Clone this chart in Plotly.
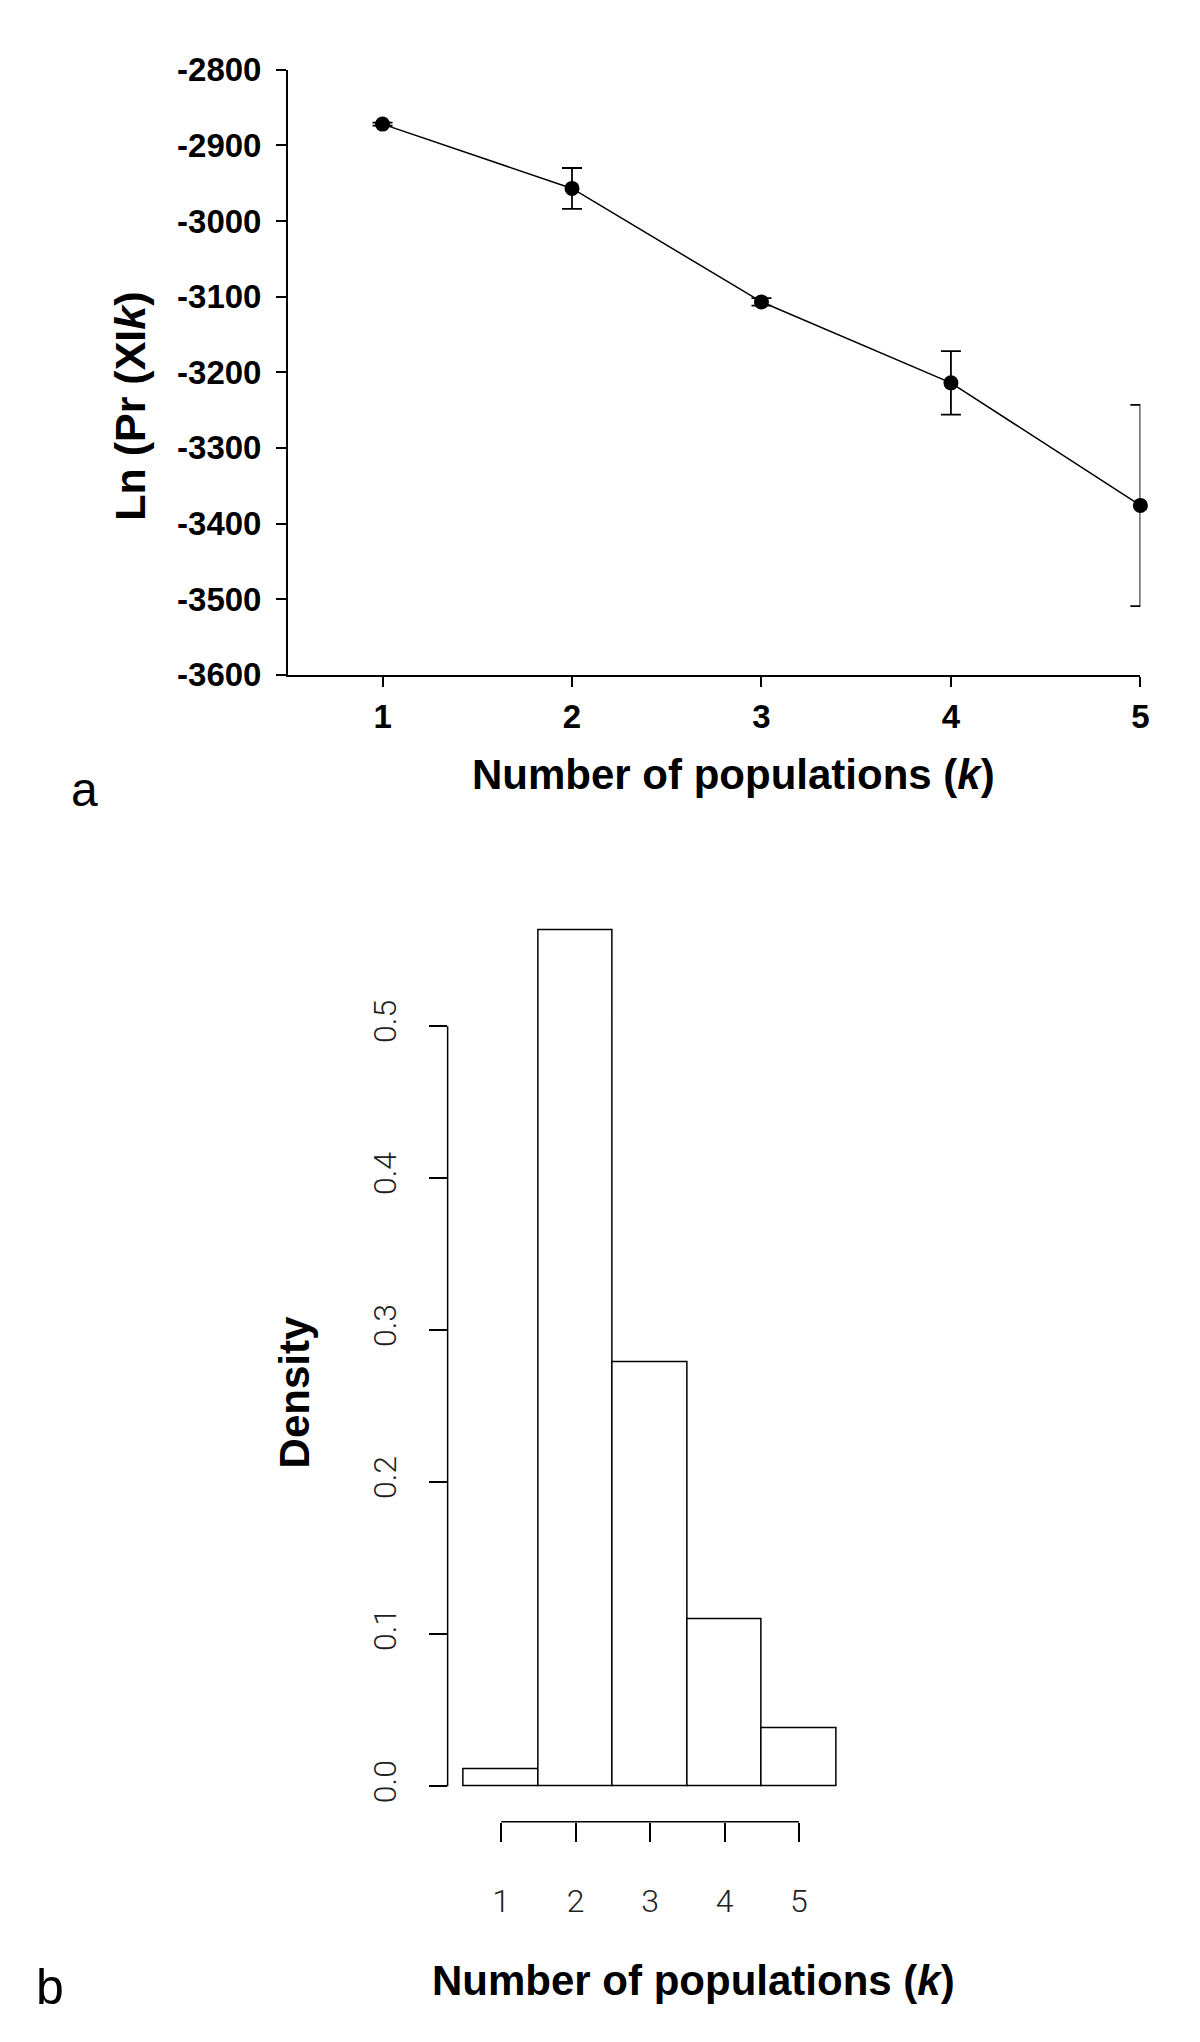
import plotly.graph_objects as go

# ---------------- data ----------------
k_values = [1, 2, 3, 4, 5]
ln_pr = [-2872, -2957, -3107, -3214, -3376]
ln_pr_err = [2, 27, 5, 42, 133]
top_y_ticks = [-3600, -3500, -3400, -3300, -3200, -3100, -3000, -2900, -2800]
top_y_ticktext = ["-3600", "-3500", "-3400", "-3300", "-3200", "-3100", "-3000", "-2900", "-2800"]

density = [0.0115, 0.563, 0.279, 0.110, 0.038]
dens_ticks = [0.0, 0.1, 0.2, 0.3, 0.4, 0.5]
dens_ticktext = ["0.0", "0.1", "0.2", "0.3", "0.4", "0.5"]

W, H = 1200, 2042
def px(x):
    return x / W
def py(y):
    return 1 - y / H

BOLD = "Liberation Sans"

fig = go.Figure()

# ---------------- panel a ----------------
fig.add_trace(go.Scatter(
    x=k_values, y=ln_pr, mode="lines+markers",
    line=dict(color="black", width=1.5),
    marker=dict(color="black", size=15, symbol="circle"),
    error_y=dict(type="data", array=ln_pr_err, visible=True,
                 color="black", thickness=1.8, width=10),
    xaxis="x", yaxis="y", showlegend=False, cliponaxis=False,
))

# ---------------- panel b ----------------
fig.add_trace(go.Bar(
    x=k_values, y=density, width=1,
    marker=dict(color="white", line=dict(color="black", width=1.5)),
    xaxis="x2", yaxis="y2", showlegend=False,
))

tick_font_a = dict(family=BOLD, size=33, color="black", weight="bold")
tick_font_b = dict(family="Roboto", size=32, color="#222222", weight=300)

fig.update_layout(
    width=W, height=H,
    margin=dict(l=0, r=0, t=0, b=0),
    paper_bgcolor="white", plot_bgcolor="white",
    bargap=0,
    xaxis=dict(
        domain=[px(290), px(1149)], range=[0.5, 5.0], anchor="y",
        showline=True, linecolor="black", linewidth=1.5,
        showgrid=False, zeroline=False,
        ticks="outside", ticklen=10, tickwidth=1.5, tickcolor="black",
        tickmode="array", tickvals=k_values, ticktext=[str(v) for v in k_values],
        tickfont=tick_font_a, ticklabelstandoff=2,
    ),
    yaxis=dict(
        domain=[py(669), py(52.6)], range=[-3600, -2800], anchor="x",
        showline=True, linecolor="black", linewidth=1.5,
        showgrid=False, zeroline=False,
        ticks="outside", ticklen=10, tickwidth=1.5, tickcolor="black",
        tickmode="array", tickvals=top_y_ticks, ticktext=top_y_ticktext,
        tickfont=tick_font_a, ticklabelstandoff=8,
    ),
    xaxis2=dict(
        domain=[px(451), px(880)], range=[0.28, 6.0], anchor="y2",
        showline=False, showgrid=False, zeroline=False,
        ticks="outside", ticklen=19, tickwidth=1.5, tickcolor="black",
        tickmode="array", tickvals=k_values, ticktext=[str(v) for v in k_values],
        tickfont=tick_font_b, ticklabelstandoff=32,
    ),
    yaxis2=dict(
        domain=[py(1837), py(872)], range=[-0.02326, 0.6], anchor="x2",
        showline=False, showgrid=False, zeroline=False,
        ticks="outside", ticklen=18, tickwidth=1.5, tickcolor="black",
        tickmode="array", tickvals=dens_ticks, ticktext=dens_ticktext,
        tickangle=-90, tickfont=tick_font_b, ticklabelstandoff=20,
    ),
)

# R-style axis lines spanning first to last tick
fig.add_shape(type="line", xref="paper", yref="y2",
              x0=px(451), x1=px(451), y0=dens_ticks[0], y1=dens_ticks[-1],
              line=dict(color="black", width=1.5))
fig.add_shape(type="line", xref="x2", yref="paper",
              x0=k_values[0], x1=k_values[-1], y0=py(1837), y1=py(1837),
              line=dict(color="black", width=1.5))

# ---------------- texts ----------------
title_font = dict(family=BOLD, size=42, color="black", weight="bold")
fig.add_annotation(text="Ln (Pr (XI<i>k</i>)", x=px(131), y=py(396),
                   xref="paper", yref="paper", showarrow=False, textangle=-90,
                   xanchor="center", yanchor="middle",
                   font=dict(family=BOLD, size=43, color="black", weight="bold"))
fig.add_annotation(text="Number of populations (<i>k</i>)", x=px(739), y=py(770),
                   xref="paper", yref="paper", showarrow=False,
                   xanchor="center", yanchor="middle", font=title_font)
fig.add_annotation(text="Density", x=px(297), y=py(1400),
                   xref="paper", yref="paper", showarrow=False, textangle=-90,
                   xanchor="center", yanchor="middle", font=title_font)
fig.add_annotation(text="Number of populations (<i>k</i>)", x=px(699), y=py(1999),
                   xref="paper", yref="paper", showarrow=False,
                   xanchor="center", yanchor="middle", font=title_font)
fig.add_annotation(text="a", x=px(85), y=py(786),
                   xref="paper", yref="paper", showarrow=False,
                   xanchor="center", yanchor="middle",
                   font=dict(family="Liberation Sans", size=48, color="black"))
fig.add_annotation(text="b", x=px(50), y=py(2005),
                   xref="paper", yref="paper", showarrow=False,
                   xanchor="center", yanchor="middle",
                   font=dict(family="Liberation Sans", size=50, color="black"))

fig.write_html("out.html", config={"displayModeBar": False},
               post_script="document.body.style.margin='0';")
